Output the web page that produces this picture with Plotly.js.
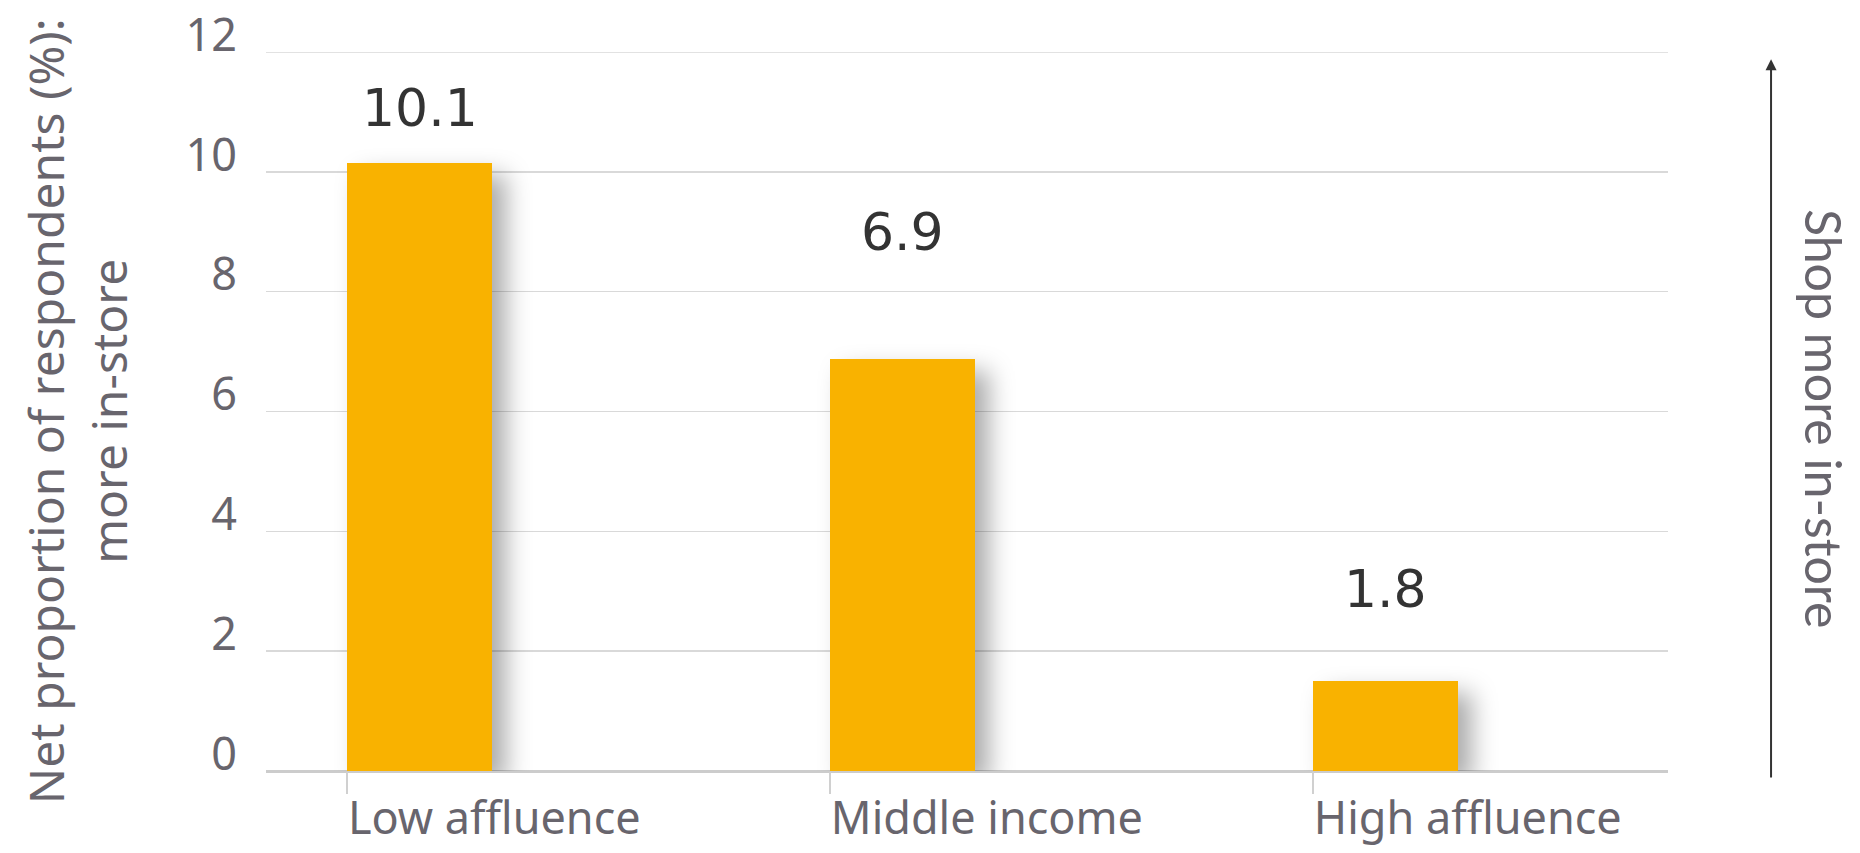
<!DOCTYPE html>
<html>
<head>
<meta charset="utf-8">
<script src="https://cdn.plot.ly/plotly-3.0.1.min.js"></script>
<style>
  html, body { margin: 0; padding: 0; background: #ffffff; }
  #chart { width: 1860px; height: 853px; }
</style>
</head>
<body>
<div id="chart"></div>
<script>
// ---- data ----
const categories = ["Low affluence", "Middle income", "High affluence"];
const values = [10.15, 6.88, 1.5];
const valueLabels = ["10.1", "6.9", "1.8"];
const yTickValues = [0, 2, 4, 6, 8, 10, 12];
const yTitleLines = ["Net proportion of respondents (%):", "more in-store"];
const sideLabel = "Shop more in-store";

// ---- style ----
const barColor = "#F9B200";
const textGray = "#68656d";
const darkText = "#333333";
const barWidth = 0.3;
const labelShift = [55, 127, 92];

const xPos = categories.map((c, i) => i);

const trace = {
  type: "bar",
  x: xPos,
  y: values,
  width: barWidth,
  offset: 0,
  marker: { color: barColor, line: { width: 0 } },
  cliponaxis: false,
  hoverinfo: "skip"
};

const annotations = valueLabels.map((t, i) => ({
  x: xPos[i] + barWidth / 2,
  y: values[i],
  xref: "x", yref: "y",
  text: t,
  showarrow: false,
  xanchor: "center", yanchor: "middle",
  yshift: labelShift[i],
  font: { family: "DejaVu Sans, sans-serif", size: 52, color: darkText }
}));

annotations.push({
  x: -0.135, y: 0.5, xref: "paper", yref: "paper",
  text: yTitleLines.join("<br>"),
  showarrow: false, textangle: -90,
  xanchor: "center", yanchor: "middle",
  font: { family: "Noto Sans, sans-serif", size: 48, color: textGray }
});

annotations.push({
  x: 1.1113, y: 0.491, xref: "paper", yref: "paper",
  text: sideLabel,
  showarrow: false, textangle: 90,
  xanchor: "center", yanchor: "middle",
  font: { family: "Lato, sans-serif", size: 50, color: textGray }
});

// arrow
annotations.push({
  x: 1.0735, y: 0.99, xref: "paper", yref: "paper",
  ax: 1.0735, ay: -0.011, axref: "paper", ayref: "paper",
  text: "", showarrow: true,
  arrowhead: 2, arrowsize: 1.1, arrowwidth: 2, arrowcolor: darkText,
  standoff: 0
});

const layout = {
  width: 1860, height: 853,
  margin: { l: 266, r: 192, t: 52, b: 82 },
  paper_bgcolor: "#ffffff",
  plot_bgcolor: "#ffffff",
  showlegend: false,
  bargap: 0,
  xaxis: {
    type: "linear",
    range: [-0.168, 2.735],
    tickvals: xPos,
    ticktext: categories,
    ticks: "outside",
    ticklen: 22,
    tickwidth: 1.5,
    tickcolor: "#d0d0d0",
    ticklabelposition: "outside right",
    ticklabelstandoff: 8,
    tickfont: { family: "Noto Sans, sans-serif", size: 45, color: textGray },
    showgrid: false,
    zeroline: false,
    showline: false,
    fixedrange: true
  },
  yaxis: {
    range: [0, 12],
    tickvals: yTickValues,
    ticktext: yTickValues.map(String),
    ticks: "",
    ticklabelstandoff: 28,
    ticklabelshift: -17,
    tickfont: { family: "Noto Sans, sans-serif", size: 45, color: textGray },
    showgrid: true,
    gridcolor: "#d9d9d9",
    gridwidth: 1.5,
    zeroline: true,
    zerolinecolor: "#cccccc",
    zerolinewidth: 3,
    showline: false,
    fixedrange: true
  },
  shapes: [{
    type: "line", xref: "paper", yref: "y",
    x0: 0, x1: 1,
    y0: yTickValues[yTickValues.length - 1], y1: yTickValues[yTickValues.length - 1],
    line: { color: "#d9d9d9", width: 1.5 },
    layer: "below"
  }],
  annotations: annotations
};

Plotly.newPlot("chart", [trace], layout, { displayModeBar: false, staticPlot: true }).then(() => {
  document.querySelectorAll("#chart .barlayer .point path").forEach(p => {
    p.style.filter = "drop-shadow(14px 12px 12px rgba(0,0,0,0.33))";
  });
});
</script>
</body>
</html>
